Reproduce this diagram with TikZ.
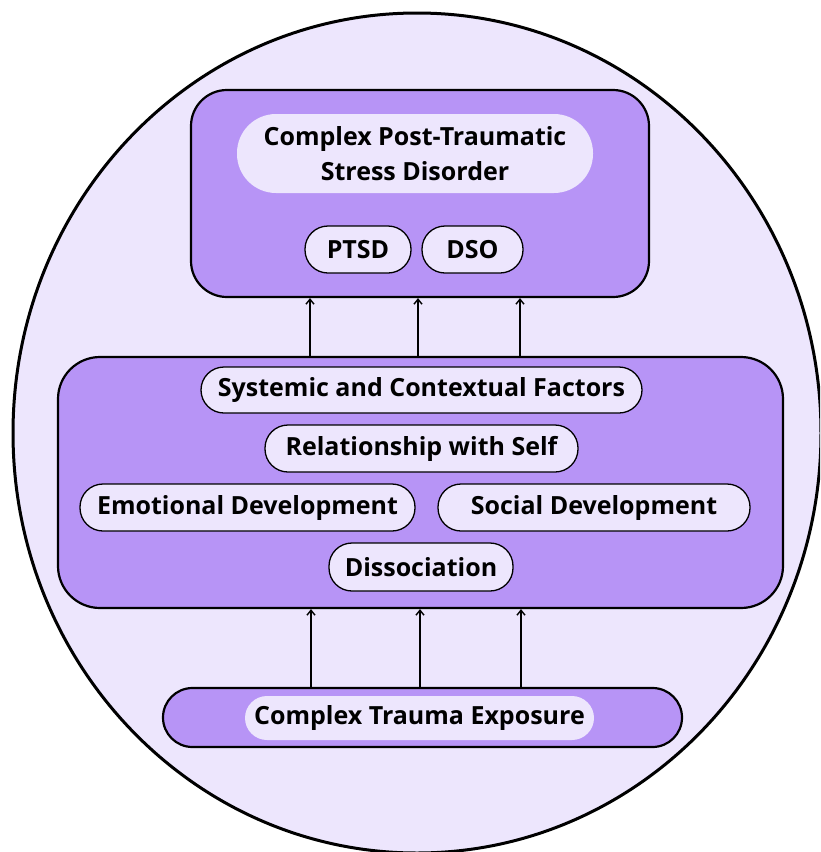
\documentclass[tikz,border=0pt]{standalone}
\usepackage{fontspec}
\setmainfont{Open Sans}
\usetikzlibrary{arrows.meta}
\definecolor{lav}{HTML}{EDE6FD}
\definecolor{purp}{HTML}{B794F6}
\begin{document}
\begin{tikzpicture}[x=1pt,y=-1pt,
  bigbox/.style={draw=black, line width=2.2pt, fill=purp, inner sep=0pt},
  pill/.style={draw=black, line width=1.3pt, fill=lav, inner sep=0pt, rounded corners=23pt,
    minimum height=47pt, font=\bfseries\fontsize{25}{30}\selectfont},
  label/.style={fill=lav, inner sep=0pt, align=center, font=\bfseries\fontsize{25}{35}\selectfont},
  arr/.style={line width=1.6pt, -{Straight Barb[length=5pt,width=8pt,line width=1.4pt]}}
]
\useasboundingbox (0,0) rectangle (820,852);
\begin{scope}
  \clip (0,0) rectangle (820,852);
  \draw[line width=3pt, fill=lav] (417,433) ellipse [x radius=404, y radius=420];
\end{scope}

% top box
\node[bigbox, rounded corners=36pt, minimum width=458pt, minimum height=207pt] (top) at (420,193.5) {};
\node[label, rounded corners=39pt, minimum width=356pt, minimum height=79pt] (title) at (415,153.5)
  {Complex Post-Traumatic\\Stress Disorder};
\node[pill, minimum width=106pt] (ptsd) at (358,249.5) {PTSD};
\node[pill, minimum width=101pt] (dso) at (472.5,249.5) {DSO};

% middle box
\node[bigbox, rounded corners=42pt, minimum width=725pt, minimum height=251pt] (mid) at (420.5,482.5) {};
\node[pill, minimum width=441pt, minimum height=46pt] (sys) at (421.5,390) {Systemic and Contextual Factors};
\node[pill, minimum width=313pt] (rel) at (421.5,448.5) {Relationship with Self};
\node[pill, minimum width=335pt] (emo) at (247.5,507.5) {Emotional Development};
\node[pill, minimum width=312pt] (soc) at (594,507.5) {Social Development};
\node[pill, minimum width=184pt, minimum height=48pt] (dis) at (421,567) {Dissociation};

% bottom box
\node[bigbox, rounded corners=29.5pt, minimum width=519pt, minimum height=59pt] (bot) at (422.5,717.5) {};
\node[label, rounded corners=22pt, minimum width=349pt, minimum height=44pt] (cte) at (419.5,718) {Complex Trauma Exposure};

% connectors
\coordinate (u1) at (310,0);
\coordinate (u2) at (418,0);
\coordinate (u3) at (520,0);
\coordinate (d1) at (311,0);
\coordinate (d2) at (420,0);
\coordinate (d3) at (521,0);
\foreach \c in {u1,u2,u3} \draw[arr] (mid.north -| \c) -- (top.south -| \c);
\foreach \c in {d1,d2,d3} \draw[arr] (bot.north -| \c) -- (mid.south -| \c);
\end{tikzpicture}
\end{document}
